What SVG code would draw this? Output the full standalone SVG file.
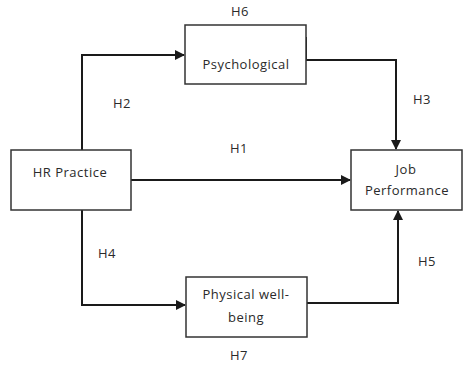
<svg xmlns="http://www.w3.org/2000/svg" width="465" height="365" viewBox="0 0 465 365">
<style>
.box{fill:#fff;stroke:#333;stroke-width:1.5}
.t{font-family:"Open Sans","Liberation Sans",sans-serif;font-size:13px;letter-spacing:0.5px;fill:#2a2a2a;text-anchor:middle}
.c{fill:none;stroke:#1a1a1a;stroke-width:2}
</style>
<defs>
<marker id="ah" markerWidth="10" markerHeight="10" refX="9" refY="5" orient="auto" markerUnits="userSpaceOnUse">
<path d="M0,0 L10,5 L0,10 Z" fill="#1a1a1a"/>
</marker>
</defs>
<rect width="465" height="365" fill="#fff"/>
<g id="connectors">
<path class="c" d="M82,150 V55 H184" marker-end="url(#ah)"/>
<path class="c" d="M306,37 V60 H396 V149" marker-end="url(#ah)"/>
<path class="c" d="M131,180 H350" marker-end="url(#ah)"/>
<path class="c" d="M82,210 V305 H185" marker-end="url(#ah)"/>
<path class="c" d="M307,303 H398 V211" marker-end="url(#ah)"/>
</g>
<g id="psychological">
<rect class="box" x="185" y="25" width="121" height="59"/>
<text class="t" x="246" y="69">Psychological</text>
</g>
<g id="hr-practice">
<rect class="box" x="11" y="150" width="120" height="60"/>
<text class="t" x="70" y="177">HR Practice</text>
</g>
<g id="job-performance">
<rect class="box" x="351" y="150" width="111" height="60"/>
<text class="t" x="406" y="174">Job</text>
<text class="t" x="407" y="195">Performance</text>
</g>
<g id="physical">
<rect class="box" x="186" y="277" width="121" height="60"/>
<text class="t" x="246" y="299">Physical well-</text>
<text class="t" x="246" y="322">being</text>
</g>
<g id="labels">
<text class="t" x="240" y="16">H6</text>
<text class="t" x="122" y="108">H2</text>
<text class="t" x="422" y="104">H3</text>
<text class="t" x="239" y="153">H1</text>
<text class="t" x="107" y="258">H4</text>
<text class="t" x="427" y="266">H5</text>
<text class="t" x="239" y="360">H7</text>
</g>
</svg>
